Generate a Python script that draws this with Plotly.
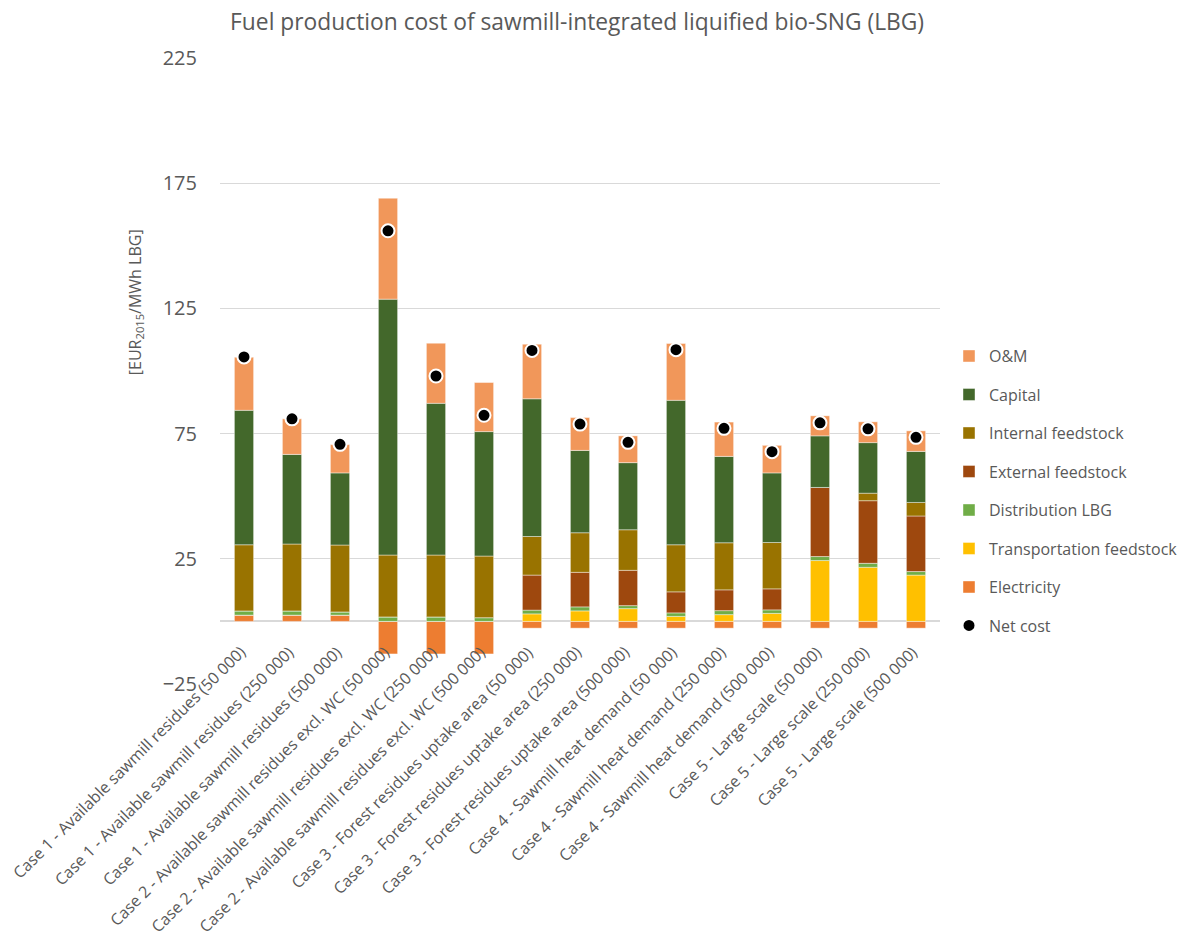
import plotly.graph_objects as go

# Cases (feedstock scale in parentheses)
categories = [
    "Case 1 - Available sawmill residues (50 000)",
    "Case 1 - Available sawmill residues (250 000)",
    "Case 1 - Available sawmill residues (500 000)",
    "Case 2 - Available sawmill residues excl. WC (50 000)",
    "Case 2 - Available sawmill residues excl. WC (250 000)",
    "Case 2 - Available sawmill residues excl. WC (500 000)",
    "Case 3 - Forest residues uptake area (50 000)",
    "Case 3 - Forest residues uptake area (250 000)",
    "Case 3 - Forest residues uptake area (500 000)",
    "Case 4 - Sawmill heat demand (50 000)",
    "Case 4 - Sawmill heat demand (250 000)",
    "Case 4 - Sawmill heat demand (500 000)",
    "Case 5 - Large scale (50 000)",
    "Case 5 - Large scale (250 000)",
    "Case 5 - Large scale (500 000)",
]

# Cost components, EUR2015/MWh LBG
electricity = [2.5, 2.5, 2.5, -13.0, -13.0, -13.0, -2.7, -2.7, -2.7, -2.7, -2.7, -2.7, -2.7, -2.7, -2.7]
transportation_feedstock = [0, 0, 0, 0, 0, 0, 3.0, 4.2, 5.1, 2.0, 2.7, 3.2, 24.3, 21.6, 18.5]
distribution_lbg = [1.7, 1.7, 1.3, 1.8, 1.8, 1.5, 1.5, 1.6, 1.2, 1.4, 1.6, 1.4, 1.6, 1.6, 1.4]
external_feedstock = [0, 0, 0, 0, 0, 0, 14.0, 13.8, 14.1, 8.4, 8.3, 8.4, 27.6, 25.0, 22.2]
internal_feedstock = [26.4, 26.7, 26.7, 24.7, 24.7, 24.6, 15.4, 15.8, 16.2, 18.8, 18.8, 18.5, 0.0, 3.0, 5.4]
capital = [53.7, 35.8, 28.8, 102.2, 60.6, 49.7, 55.0, 32.9, 26.8, 57.7, 34.5, 27.8, 20.6, 20.2, 20.4]
o_and_m = [21.2, 14.2, 11.3, 40.3, 24.0, 19.6, 21.8, 13.1, 10.7, 22.7, 13.7, 11.0, 8.0, 8.3, 8.2]
net_cost = [105.6, 80.9, 70.7, 156.0, 98.0, 82.3, 108.2, 78.8, 71.5, 108.5, 77.1, 67.8, 79.3, 76.9, 73.5]

TEXT = "#595959"
GRID = "#d9d9d9"
FONT = "Open Sans"

# (name, values, colour, legend rank) in stacking order, bottom first
components = [
    ("Electricity", electricity, "#ED7D31", 7),
    ("Transportation feedstock", transportation_feedstock, "#FFC000", 6),
    ("Distribution LBG", distribution_lbg, "#70AD47", 5),
    ("External feedstock", external_feedstock, "#9E480E", 4),
    ("Internal feedstock", internal_feedstock, "#997300", 3),
    ("Capital", capital, "#43682B", 2),
    ("O&M", o_and_m, "#F1975A", 1),
]

fig = go.Figure()
for name, vals, color, rank in components:
    fig.add_trace(go.Bar(
        x=categories, y=vals, name=name,
        marker=dict(color=color, line=dict(color="rgba(255,255,255,0.7)", width=0.6)),
        legendrank=rank, legendgroup=name,
    ))

fig.add_trace(go.Scatter(
    x=categories, y=net_cost, name="Net cost", mode="markers",
    marker=dict(color="black", size=13, line=dict(color="white", width=2)),
    legendrank=8, legendgroup="Net cost",
))

fig.update_layout(
    width=1185, height=936,
    margin=dict(l=220, r=245, t=58, b=252, autoexpand=False),
    paper_bgcolor="white", plot_bgcolor="white",
    barmode="relative", bargap=0.6,
    font=dict(family=FONT, color=TEXT),
    title=dict(
        text="Fuel production cost of sawmill-integrated liquified bio-SNG (LBG)",
        x=0.487, xanchor="center", y=0.976, yanchor="middle",
        font=dict(size=22.8, color=TEXT, family=FONT),
    ),
    showlegend=True,
    legend=dict(
        x=1.0125, xanchor="left", y=0.551, yanchor="top",
        font=dict(size=16, color=TEXT, family=FONT),
        tracegroupgap=14.7, itemwidth=30,
        bgcolor="rgba(0,0,0,0)",
    ),
)

# Category axis: labels are hung just below the zero line, slanted at 45 degrees
fig.update_xaxes(
    type="category", range=[-0.5, len(categories) - 0.5], autorange=False,
    showticklabels=False,
    showline=False, showgrid=False, ticks="", automargin=False,
)
for cat in categories:
    fig.add_annotation(
        x=cat, y=0, xref="x", yref="y",
        text=cat, textangle=-45, showarrow=False,
        xanchor="right", yanchor="top", xshift=9, yshift=-17,
        font=dict(size=16, color=TEXT, family=FONT),
    )

fig.update_yaxes(
    range=[-25, 225], autorange=False, tickvals=[-25, 25, 75, 125, 175, 225],
    showgrid=True, gridcolor=GRID, gridwidth=1.3,
    zeroline=True, zerolinecolor=GRID, zerolinewidth=1.6,
    showline=False, ticks="", automargin=False,
    ticklabelstandoff=22,
    tickfont=dict(size=20, color=TEXT, family=FONT),
)

fig.add_annotation(
    text="[EUR<sub>2015</sub>/MWh LBG]",
    xref="paper", yref="paper", x=-0.118, y=0.61,
    xanchor="center", yanchor="middle", textangle=-90, showarrow=False,
    font=dict(size=16, color=TEXT, family=FONT),
)

fig.write_html("out.html")
